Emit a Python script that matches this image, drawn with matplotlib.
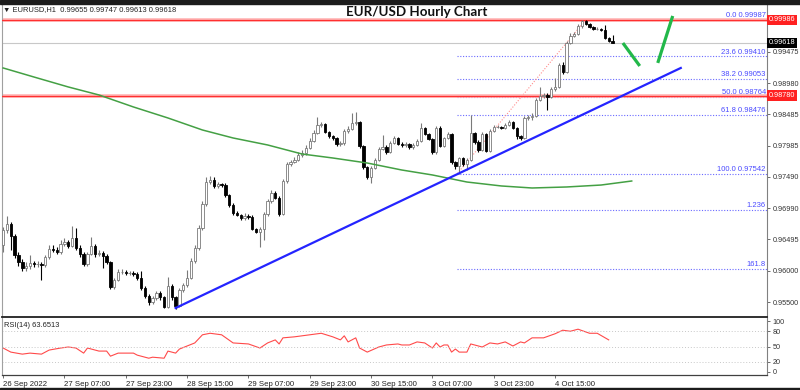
import matplotlib
matplotlib.use("Agg")
import matplotlib.pyplot as plt
from matplotlib.patches import Rectangle

plt.rcParams['font.family'] = ['Liberation Sans', 'DejaVu Sans']

# ---------------- data (EUR/USD H1 candles) ----------------
closes = [
    0.96645, 0.96740, 0.96550, 0.96248, 0.96136, 0.96041, 0.96073, 0.96120, 0.96104, 0.96104,
    0.96089, 0.96216, 0.96343, 0.96327, 0.96295, 0.96422, 0.96454, 0.96391, 0.96518, 0.96359,
    0.96263, 0.96104, 0.96263, 0.96391, 0.96263, 0.96279, 0.96232, 0.96136, 0.95739, 0.95850,
    0.95977, 0.95977, 0.95961, 0.95961, 0.95945, 0.95882, 0.95723, 0.95596, 0.95500, 0.95564,
    0.95643, 0.95580, 0.95421, 0.95755, 0.95580, 0.95437, 0.95691, 0.95770, 0.95882, 0.96152,
    0.96359, 0.96677, 0.97058, 0.97408, 0.97440, 0.97345, 0.97376, 0.97360, 0.97202, 0.97043,
    0.96915, 0.96884, 0.96836, 0.96868, 0.96852, 0.96661, 0.96613, 0.96661, 0.96899, 0.97106,
    0.97233, 0.97154, 0.96899, 0.97424, 0.97694, 0.97726, 0.97758, 0.97838, 0.97869, 0.97949,
    0.98060, 0.98187, 0.98315, 0.98330, 0.98203, 0.98140, 0.98108, 0.98012, 0.98028, 0.98219,
    0.98251, 0.98346, 0.98362, 0.97981, 0.97647, 0.97488, 0.97631, 0.97758, 0.97933, 0.97965,
    0.97885, 0.98028, 0.98108, 0.98012, 0.97997, 0.98012, 0.97965, 0.97997, 0.98060, 0.98267,
    0.98171, 0.98092, 0.97885, 0.98267, 0.97981, 0.98108, 0.98171, 0.97726, 0.97663, 0.97790,
    0.97694, 0.97758, 0.98187, 0.98044, 0.97917, 0.98171, 0.97901, 0.98219, 0.98283, 0.98283,
    0.98267, 0.98315, 0.98362, 0.98267, 0.98140, 0.98108, 0.98426, 0.98442, 0.98458, 0.98712,
    0.98776, 0.98792, 0.98760, 0.98887, 0.98919, 0.99269, 0.99157, 0.99618, 0.99730, 0.99761,
    0.99889, 0.99968, 0.99920, 0.99873, 0.99841, 0.99841, 0.99825, 0.99698, 0.99655, 0.99618,
]
opens = [
    0.96407, 0.96645, 0.96740, 0.96550, 0.96248, 0.96136, 0.96041, 0.96073, 0.96120, 0.96104,
    0.96104, 0.96089, 0.96216, 0.96343, 0.96327, 0.96295, 0.96422, 0.96454, 0.96391, 0.96518,
    0.96359, 0.96263, 0.96104, 0.96263, 0.96391, 0.96263, 0.96279, 0.96232, 0.96136, 0.95739,
    0.95850, 0.95977, 0.95977, 0.95961, 0.95961, 0.95945, 0.95882, 0.95723, 0.95596, 0.95500,
    0.95564, 0.95643, 0.95580, 0.95421, 0.95755, 0.95580, 0.95437, 0.95691, 0.95770, 0.95882,
    0.96152, 0.96359, 0.96677, 0.97058, 0.97408, 0.97440, 0.97345, 0.97376, 0.97360, 0.97202,
    0.97043, 0.96915, 0.96884, 0.96836, 0.96868, 0.96852, 0.96661, 0.96613, 0.96661, 0.96899,
    0.97106, 0.97233, 0.97154, 0.96899, 0.97424, 0.97694, 0.97726, 0.97758, 0.97838, 0.97869,
    0.97949, 0.98060, 0.98187, 0.98315, 0.98330, 0.98203, 0.98140, 0.98108, 0.98012, 0.98028,
    0.98219, 0.98251, 0.98346, 0.98362, 0.97981, 0.97647, 0.97488, 0.97631, 0.97758, 0.97933,
    0.97965, 0.97885, 0.98028, 0.98108, 0.98012, 0.97997, 0.98012, 0.97965, 0.97997, 0.98060,
    0.98267, 0.98171, 0.98092, 0.97885, 0.98267, 0.97981, 0.98108, 0.98171, 0.97726, 0.97663,
    0.97790, 0.97694, 0.97758, 0.98187, 0.98044, 0.97917, 0.98171, 0.97901, 0.98219, 0.98283,
    0.98283, 0.98267, 0.98315, 0.98362, 0.98267, 0.98140, 0.98108, 0.98426, 0.98442, 0.98458,
    0.98712, 0.98776, 0.98792, 0.98760, 0.98887, 0.98919, 0.99269, 0.99157, 0.99618, 0.99730,
    0.99761, 0.99889, 0.99968, 0.99920, 0.99873, 0.99841, 0.99841, 0.99825, 0.99698, 0.99655,
]
highs = [
    0.9670, 0.9686, 0.9677, 0.9658, 0.9630, 0.9619, 0.9614, 0.9625, 0.9616, 0.9615,
    0.9614, 0.9625, 0.9640, 0.9641, 0.9637, 0.9648, 0.9652, 0.9649, 0.9671, 0.9668,
    0.9640, 0.9629, 0.9630, 0.9653, 0.9643, 0.9633, 0.9631, 0.9627, 0.9616, 0.9588,
    0.9603, 0.9602, 0.9601, 0.9600, 0.9599, 0.9598, 0.9600, 0.9575, 0.9562, 0.9560,
    0.9568, 0.9568, 0.9560, 0.9590, 0.9578, 0.9560, 0.9572, 0.9580, 0.9601, 0.9620,
    0.9640, 0.9672, 0.9710, 0.9749, 0.9750, 0.9748, 0.9741, 0.9740, 0.9739, 0.9722,
    0.9707, 0.9694, 0.9690, 0.9691, 0.9690, 0.9688, 0.9668, 0.9670, 0.9693, 0.9714,
    0.9728, 0.9727, 0.9718, 0.9745, 0.9772, 0.9776, 0.9780, 0.9788, 0.9792, 0.9799,
    0.9810, 0.9823, 0.9844, 0.9837, 0.9835, 0.9822, 0.9816, 0.9813, 0.9806, 0.9825,
    0.9830, 0.9850, 0.9852, 0.9838, 0.9800, 0.9767, 0.9766, 0.9779, 0.9797, 0.9816,
    0.9800, 0.9806, 0.9814, 0.9813, 0.9804, 0.9805, 0.9803, 0.9803, 0.9809, 0.9835,
    0.9829, 0.9819, 0.9811, 0.9830, 0.9830, 0.9813, 0.9820, 0.9818, 0.9775, 0.9781,
    0.9781, 0.9779, 0.9847, 0.9820, 0.9807, 0.9820, 0.9819, 0.9825, 0.9832, 0.9831,
    0.9830, 0.9835, 0.9840, 0.9838, 0.9829, 0.9816, 0.9845, 0.9848, 0.9850, 0.9875,
    0.9892, 0.9882, 0.9882, 0.9892, 0.9906, 0.9930, 0.9932, 0.9965, 0.9977, 0.9980,
    0.9992, 0.9998, 0.99987, 0.9994, 0.9989, 0.9987, 0.9986, 0.9990, 0.9972, 0.99747,
]
lows = [
    0.9630, 0.9660, 0.9632, 0.9620, 0.9608, 0.9600, 0.9600, 0.9603, 0.9606, 0.9605,
    0.9585, 0.9606, 0.9619, 0.9629, 0.9626, 0.9627, 0.9639, 0.9636, 0.9637, 0.9633,
    0.9622, 0.9607, 0.9608, 0.9624, 0.9622, 0.9623, 0.9604, 0.9610, 0.9570, 0.9571,
    0.9583, 0.9594, 0.9593, 0.9593, 0.9591, 0.9585, 0.9569, 0.9556, 0.9546, 0.9547,
    0.9553, 0.9554, 0.9540, 0.9541, 0.9553, 0.9539, 0.9542, 0.9566, 0.9574, 0.9586,
    0.9612, 0.9633, 0.9665, 0.9703, 0.9737, 0.9731, 0.9732, 0.9733, 0.9717, 0.9701,
    0.9689, 0.9686, 0.9681, 0.9680, 0.9682, 0.9664, 0.9659, 0.9638, 0.9649, 0.9687,
    0.9708, 0.9713, 0.9687, 0.9688, 0.9740, 0.9767, 0.9771, 0.9774, 0.9781, 0.9784,
    0.9793, 0.9804, 0.9817, 0.9828, 0.9818, 0.9810, 0.9808, 0.9798, 0.9798, 0.9800,
    0.9818, 0.9823, 0.9832, 0.9795, 0.9762, 0.9746, 0.9739, 0.9761, 0.9774, 0.9791,
    0.9786, 0.9787, 0.9801, 0.9799, 0.9797, 0.9797, 0.9794, 0.9794, 0.9798, 0.9804,
    0.9815, 0.9807, 0.9786, 0.9786, 0.9796, 0.9796, 0.9809, 0.9770, 0.9762, 0.97542,
    0.9766, 0.9760, 0.9774, 0.9802, 0.9789, 0.9790, 0.9788, 0.9789, 0.9820, 0.9826,
    0.9825, 0.9825, 0.9830, 0.9825, 0.9809, 0.9807, 0.9809, 0.9840, 0.9840, 0.9844,
    0.9869, 0.9875, 0.9855, 0.9874, 0.9886, 0.9890, 0.9913, 0.9914, 0.9960, 0.9971,
    0.9974, 0.9986, 0.9990, 0.9985, 0.9982, 0.9982, 0.9981, 0.9968, 0.9963, 0.99613,
]

# 200-period moving average (sampled at bar positions)
ma_idx = [0, 8, 17, 25, 34, 43, 52, 60, 69, 78, 86, 95, 104, 112, 121, 130, 138, 147, 156, 164]
ma_vals = [0.99221, 0.99078, 0.98919, 0.98792, 0.98601, 0.98426, 0.98235, 0.98108, 0.97997, 0.97853,
           0.97790, 0.97710, 0.97599, 0.97520, 0.97408, 0.97345, 0.97313, 0.97329, 0.97360, 0.97424]

# RSI(14)
rsi_idx = [0, 2, 5, 7, 10, 12, 15, 17, 19, 21, 22, 25, 27, 28, 30, 33, 34, 35, 38, 39,
           42, 43, 45, 46, 50, 52, 54, 57, 60, 64, 67, 69, 71, 72, 73, 76, 80, 83, 86, 88,
           89, 90, 92, 93, 95, 98, 100, 103, 104, 106, 108, 110, 112, 113, 114, 115, 116, 117, 118, 119,
           121, 122, 125, 127, 129, 131, 133, 135, 136, 138, 141, 144, 146, 148, 150, 153, 155, 158]
rsi_vals = [47, 39, 35, 37, 35, 43, 47, 49, 47, 37, 47, 41, 41, 31, 37, 37, 37, 33, 27, 29,
            27, 41, 37, 45, 57, 73, 76, 73, 57, 55, 47, 57, 63, 55, 67, 69, 73, 76, 69, 63,
            71, 59, 67, 47, 39, 49, 53, 55, 53, 53, 59, 57, 47, 57, 49, 53, 53, 39, 45, 39,
            39, 55, 49, 57, 55, 59, 51, 59, 57, 67, 67, 75, 82, 80, 84, 76, 76, 63]
rsi_levels = [20, 50, 80]
rsi_ticks = [0, 20, 50, 80, 100]

# Fibonacci retracement (swing low bar -> swing high bar)
fib_start_bar, fib_end_bar = 118.5, 152
fib_levels = [0.99987, 0.99410, 0.99053, 0.98764, 0.98476, 0.97542, 0.96965, 0.96031]
fib_labels = ['0.0 0.99987', '23.6 0.99410', '38.2 0.99053', '50.0 0.98764',
              '61.8 0.98476', '100.0 0.97542', '1.236', '161.8']

# horizontal levels
resistance_levels = [0.99986, 0.98780]
last_price = 0.99618

# trend line (bar, price) end points
trend_bars = [45, 176.8]
trend_prices = [0.95405, 0.99221]

# projected move sketch (bar, price)
proj1_bars, proj1_prices = [161.7, 166.1], [0.99618, 0.99253]
proj2_bars, proj2_prices = [170.8, 174.7], [0.99301, 1.00048]

price_ticks = [0.99475, 0.98980, 0.98485, 0.97985, 0.97490, 0.96990, 0.96495, 0.96000, 0.95500]
xtick_pos = [0, 16, 32, 48, 64, 80, 96, 112, 128, 144]
xtick_labels = ['26 Sep 2022', '27 Sep 07:00', '27 Sep 23:00', '28 Sep 15:00', '29 Sep 07:00',
                '29 Sep 23:00', '30 Sep 15:00', '3 Oct 07:00', '3 Oct 23:00', '4 Oct 15:00']

# ---------------- figure ----------------
W, H = 800, 390
fig = plt.figure(figsize=(8, 3.9), dpi=100)
fig.patch.set_facecolor('white')

def fx(px):
    return px / W

def fy(py):
    return 1 - py / H

ax = fig.add_axes([fx(2), fy(317), fx(767) - fx(2), fy(4) - fy(317)])
axr = fig.add_axes([fx(2), fy(375), fx(767) - fx(2), fy(318) - fy(375)])

XMAX = 199.3
ax.set_xlim(-0.3, XMAX)
ax.set_ylim(0.95262, 1.00238)

# candles
n = len(closes)
for i in range(n):
    o, h, l, c = opens[i], highs[i], lows[i], closes[i]
    bull = c >= o
    col = '#7a7a7a' if bull else '#000000'
    ax.vlines(i, l, h, color=col, lw=0.8, zorder=3)
    lo_b = min(o, c)
    hb = max(abs(c - o), 0.00006)
    ax.bar(i, hb, bottom=lo_b, width=0.62, facecolor='white' if bull else 'black',
           edgecolor=col, linewidth=0.6, zorder=4)

# fib levels
for lv, lab in zip(fib_levels, fib_labels):
    ax.plot([fib_start_bar, XMAX], [lv, lv], color='#6a6aff', ls=(0, (1, 1.5)), lw=0.8, zorder=1.5)
    ax.text(XMAX - 0.3, lv + 0.00008, lab, ha='right', va='bottom', fontsize=5.5,
            color='#4a4aff', zorder=6)
ax.plot([fib_start_bar, fib_end_bar], [fib_levels[5], fib_levels[0]], color='#ff8c8c',
        ls=(0, (1, 1.5)), lw=0.8, zorder=2)

# horizontal levels
for lv in resistance_levels:
    ax.axhline(lv, color='#ffb4b4', lw=2.6, zorder=2.5)
    ax.axhline(lv, color='#ff3030', lw=0.9, zorder=2.6)
ax.axhline(last_price, color='#c8c8c8', lw=0.8, zorder=1)

# MA
ax.plot(ma_idx, ma_vals, color='#44a044', lw=1.1, zorder=5)

# trend line
ax.plot(trend_bars, trend_prices, color='#2424ff', lw=1.6, zorder=6)

# projection sketch
ax.plot(proj1_bars, proj1_prices, color='#22b84a', lw=2.3, solid_capstyle='butt', zorder=6)
ax.plot(proj2_bars, proj2_prices, color='#22b84a', lw=2.3, solid_capstyle='butt', zorder=6)

# axes styling main
ax.yaxis.tick_right()
ax.set_yticks(price_ticks)
ax.set_yticklabels([f'{v:.5f}' for v in price_ticks], fontsize=5.2, color='#333333')
ax.tick_params(axis='y', length=2.5, width=0.6, pad=1.5, colors='#555555', labelcolor='#333333')
ax.set_xticks([])
ax.spines['top'].set_visible(False)
ax.spines['left'].set_color('#a0a0a0')
ax.spines['left'].set_linewidth(0.8)
ax.spines['right'].set_color('#808080')
ax.spines['right'].set_linewidth(0.8)
ax.spines['bottom'].set_color('#202020')
ax.spines['bottom'].set_linewidth(1.3)

# price boxes on the right axis
tr = ax.get_yaxis_transform()
for lv in resistance_levels:
    ax.text(1.002, lv, f'{lv:.5f}', transform=tr, ha='left', va='center', fontsize=5.2,
            color='white', bbox=dict(boxstyle='square,pad=0.25', fc='#ff2020', ec='none'),
            zorder=10, clip_on=False)
ax.text(1.002, last_price, f'{last_price:.5f}', transform=tr, ha='left', va='center', fontsize=5.2,
        color='white', bbox=dict(boxstyle='square,pad=0.25', fc='#000000', ec='none'),
        zorder=10, clip_on=False)

# RSI panel
axr.set_xlim(-0.3, XMAX)
axr.set_ylim(-6, 106)
axr.plot(rsi_idx, rsi_vals, color='#ff4a4a', lw=0.8)
for lv in rsi_levels:
    axr.axhline(lv, color='#c8c8c8', ls=(0, (1, 2)), lw=0.7)
axr.yaxis.tick_right()
axr.set_yticks(rsi_ticks)
axr.set_yticklabels([str(v) for v in rsi_ticks], fontsize=5.2, color='#333333')
axr.tick_params(axis='y', length=2.5, width=0.6, pad=1.5, colors='#555555', labelcolor='#333333')
axr.set_xticks(xtick_pos)
axr.set_xticklabels(xtick_labels, fontsize=5.6, color='#222222', ha='left')
axr.tick_params(axis='x', length=2.5, width=0.6, pad=1.5, colors='#555555', labelcolor='#222222')
axr.spines['top'].set_visible(False)
axr.spines['left'].set_color('#a0a0a0')
axr.spines['left'].set_linewidth(0.8)
axr.spines['right'].set_color('#808080')
axr.spines['right'].set_linewidth(0.8)
axr.spines['bottom'].set_color('#404040')
axr.spines['bottom'].set_linewidth(0.9)
axr.text(0.003, 0.93, f'RSI(14) {63.6513:.4f}', transform=axr.transAxes, ha='left', va='top',
         fontsize=5.4, color='#222222')

# header texts
fig.text(fx(3), fy(10), '\u25BC EURUSD,H1  0.99655 0.99747 0.99613 0.99618', ha='left', va='center',
         fontsize=5.4, color='#222222')
fig.text(fx(417), fy(12), 'EUR/USD Hourly Chart', ha='center', va='center', fontsize=9.6,
         fontweight='bold', family=['Lato', 'DejaVu Sans'], color='#111111')

# frame strips
fig.add_artist(Rectangle((0, fy(4)), 1, 4 / H, transform=fig.transFigure, color='#1c1c1c', zorder=20))
fig.add_artist(Rectangle((0, 0), 1, 2 / H, transform=fig.transFigure, color='#1c1c1c', zorder=20))

fig.savefig('out.png', dpi=100, facecolor='white')
